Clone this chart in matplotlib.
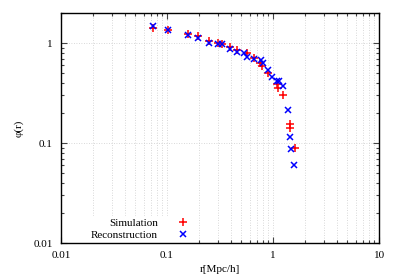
import matplotlib
matplotlib.use("Agg")
from matplotlib import pyplot as plt
from matplotlib.ticker import LogLocator, FixedLocator, FixedFormatter, NullFormatter

plt.rcParams["font.family"] = ["Liberation Serif", "DejaVu Serif"]
plt.rcParams["font.size"] = 8

# Simulation (red +)
r_sim = [0.073, 0.103, 0.159, 0.197, 0.247, 0.305, 0.33, 0.393, 0.46, 0.57, 0.66,
         0.76, 0.79, 0.90, 1.09, 1.12, 1.23, 1.44, 1.46, 1.61]
phi_sim = [1.42, 1.35, 1.25, 1.18, 1.06, 1.0, 0.98, 0.906, 0.85, 0.79, 0.71,
           0.636, 0.59, 0.505, 0.389, 0.36, 0.30, 0.157, 0.142, 0.09]

# Reconstruction (blue x)
r_rec = [0.073, 0.102, 0.159, 0.197, 0.247, 0.305, 0.33, 0.393, 0.46, 0.532, 0.57,
         0.66, 0.776, 0.81, 0.89, 0.98, 1.10, 1.15, 1.23, 1.39, 1.46, 1.49, 1.59]
phi_rec = [1.48, 1.37, 1.21, 1.13, 1.007, 0.99, 0.977, 0.865, 0.81, 0.79, 0.73,
           0.70, 0.676, 0.64, 0.545, 0.46, 0.42, 0.415, 0.377, 0.215, 0.116, 0.0877, 0.061]

fig = plt.figure(figsize=(3.99, 2.79), dpi=100)
ax = fig.add_axes([0.153, 0.129, 0.797, 0.824])

ax.plot(r_sim, phi_sim, ls="", marker="+", ms=5.5, mew=1.1, c="red", label="Simulation")
ax.plot(r_rec, phi_rec, ls="", marker="x", ms=4.5, mew=1.1, c="blue", label="Reconstruction")

ax.set_xscale("log")
ax.set_yscale("log")
ax.set_xlim(0.01, 10)
ax.set_ylim(0.01, 2)

ax.xaxis.set_major_locator(FixedLocator([0.01, 0.1, 1, 10]))
ax.xaxis.set_major_formatter(FixedFormatter(["0.01", "0.1", "1", "10"]))
ax.yaxis.set_major_locator(FixedLocator([0.01, 0.1, 1]))
ax.yaxis.set_major_formatter(FixedFormatter(["0.01", "0.1", "1"]))
ax.xaxis.set_minor_locator(LogLocator(base=10, subs=range(2, 10)))
ax.yaxis.set_minor_locator(LogLocator(base=10, subs=range(2, 10)))
ax.xaxis.set_minor_formatter(NullFormatter())
ax.yaxis.set_minor_formatter(NullFormatter())

ax.tick_params(which="both", direction="in", top=True, right=True, width=0.8, color="#444444")
ax.tick_params(which="major", length=4, pad=6)
ax.tick_params(which="minor", length=2)

ax.grid(True, which="both", axis="x", ls=(0, (1, 2)), lw=0.6, color="#cccccc")
ax.grid(True, which="major", axis="y", ls=(0, (1, 2)), lw=0.6, color="#cccccc")
ax.set_axisbelow(True)

for s in ax.spines.values():
    s.set_linewidth(1.0)

ax.set_xlabel("r[Mpc/h]", labelpad=3)
ax.set_ylabel("φ(r)", labelpad=7)

leg = ax.legend(loc="lower left", bbox_to_anchor=(0.07, -0.02), markerfirst=False,
                frameon=True, framealpha=1, edgecolor="white", fancybox=False,
                handlelength=1.2, handletextpad=1.6, labelspacing=0.15, borderpad=0.2)
leg.set_zorder(2.4)  # keep axis lines and ticks on top of the legend box

fig.savefig("out.png", dpi=100)
